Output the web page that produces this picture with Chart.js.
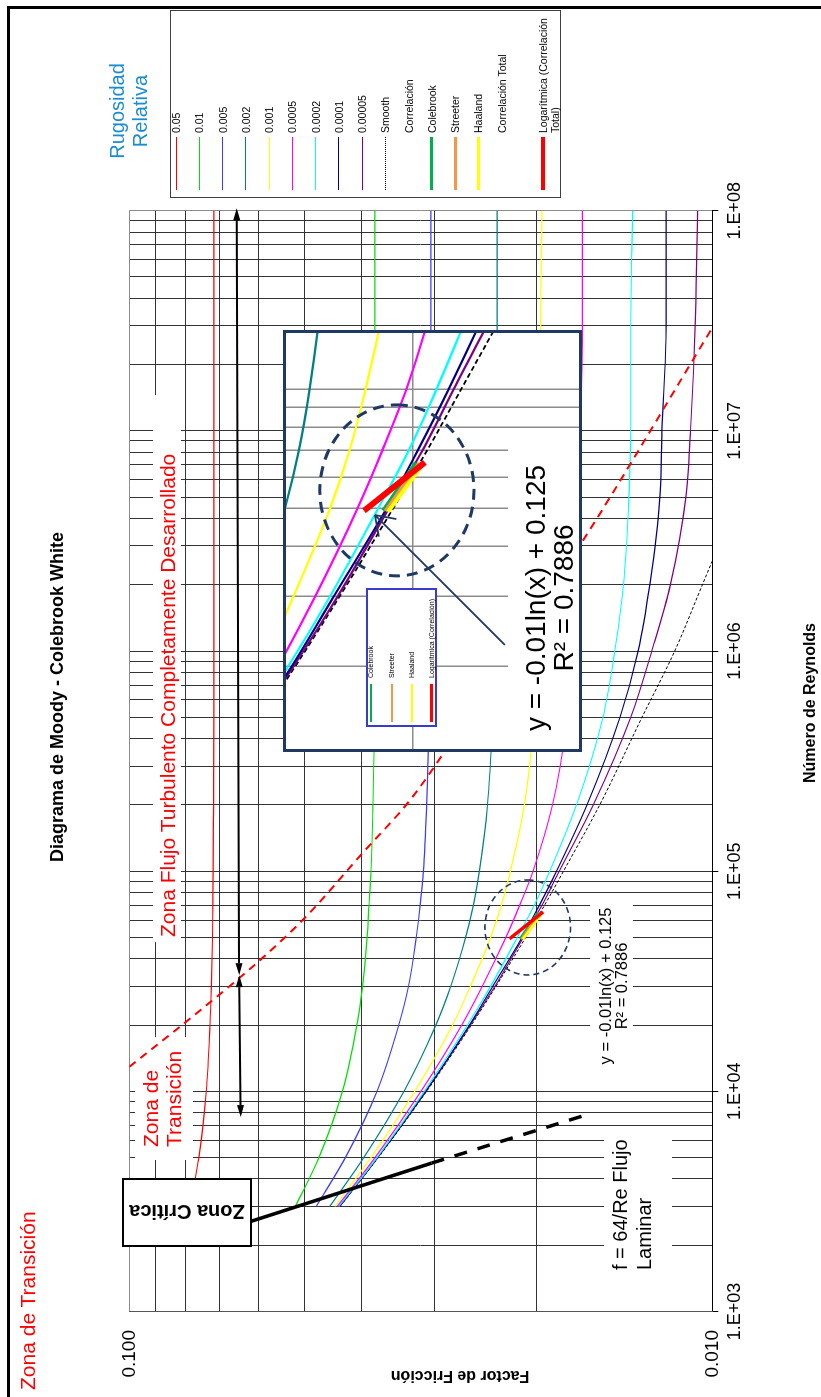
<!DOCTYPE html>
<html lang="es">
<head>
<meta charset="utf-8">
<title>Diagrama de Moody - Colebrook White</title>
<script src="https://cdn.jsdelivr.net/npm/chart.js@4.4.1/dist/chart.umd.min.js"></script>
<style>
  html, body { margin: 0; padding: 0; background: #fff; }
  body { position: relative; width: 821px; height: 1397px; overflow: hidden;
         font-family: "Liberation Sans", Arial, sans-serif; color: #000; }
  /* the chart is laid out landscape and turned a quarter turn to the left */
  #sheet { position: absolute; left: 0; top: 1397px; width: 1397px; height: 821px;
           transform-origin: 0 0; transform: rotate(-90deg); background: #fff; }
  #sheet div { position: absolute; white-space: nowrap; }
  canvas { position: absolute; left: 0; top: 0; }
  #frame { left: -5px; top: 7px; width: 1393px; height: 900px;
           border-top: 3px solid #000; border-right: 3px solid #000; }
  .zone { color: #ff0000; font-size: 21px; line-height: 23px; }
  #zoneTop { left: 7px; top: 16px; }
  #zoneTurb { left: 460px; top: 156px; }
  #zoneTrans { left: 250px; top: 138.5px; }
  #title { left: 400px; top: 45.5px; width: 600px; text-align: center;
           font-weight: bold; font-size: 18px; line-height: 22px; }
  #laminar { left: 127px; top: 608px; font-size: 20px; line-height: 24px; }
  #eqMain { left: 311px; top: 597px; width: 200px; text-align: center; font-size: 16.5px; line-height: 16px; }
  #critical { left: 150px; top: 122px; width: 69px; height: 130px; box-sizing: border-box;
              border: 2px solid #000; background: #fff; }
  .turn { left: 50%; top: 50%; transform: translate(-50%, -50%) rotate(-90deg); }
  #critical .turn { font-weight: bold; font-size: 20px; }
  #rugosidad { left: 1186px; top: 105.5px; width: 200px; text-align: center; color: #1a8dd0;
               font-size: 20px; line-height: 23px; }
  #legend { left: 1199px; top: 170px; width: 188px; height: 391px; box-sizing: border-box;
            border: 1px solid #404040; background: #fff; }
  #legend .txt { font-size: 10.5px; line-height: 12px; }
  #xTitle { left: 594px; top: 800px; width: 200px; text-align: center; font-weight: bold;
            font-size: 16px; line-height: 20px; }
  #yTitle { left: -79.5px; top: 450px; width: 200px; height: 20px; text-align: center; font-weight: bold;
            font-size: 16px; line-height: 20px; transform: rotate(-90deg); }
  #inset { left: 645px; top: 283px; width: 416px; height: 293px; border: 3px solid #1f3864; background: #fff; }
  #eqInset { left: 1px; top: 236px; width: 300px; text-align: center; font-size: 28px; line-height: 28px; }
  #insetLegend { left: 22.3px; top: 80px; width: 138.4px; height: 71.3px; box-sizing: border-box;
                 border: 2px solid #3a3acc; background: #fff; }
  #insetLegend .txt { font-size: 7px; line-height: 8px; }
</style>
</head>
<body>
<div id="sheet">
  <canvas id="moody" width="1397" height="821"></canvas>
  <div id="frame"></div>

  <div id="zoneTop" class="zone">Zona de Transición</div>
  <div id="title">Diagrama de Moody - Colebrook White</div>
  <div id="zoneTurb" class="zone">Zona Flujo Turbulento Completamente Desarrollado</div>
  <div id="zoneTrans" class="zone">Zona de<br>Transición</div>
  <div id="laminar">f = 64/Re Flujo<br>Laminar</div>
  <div id="eqMain">y = -0.01ln(x) + 0.125<br>R² = 0.7886</div>
  <div id="critical"><div class="turn">Zona Crítica</div></div>

  <div id="inset">
    <canvas id="zoom" width="416" height="293"></canvas>
    <div id="eqInset">y = -0.01ln(x) + 0.125<br>R² = 0.7886</div>
    <div id="insetLegend"></div>
  </div>

  <div id="rugosidad">Rugosidad<br>Relativa</div>
  <div id="legend"></div>
  <div id="xTitle">Número de Reynolds</div>
  <div id="yTitle">Factor de Fricción</div>
</div>

<script>
/* ---------- Data ---------- */
const reynolds = [3e3, 5e3, 1e4, 2e4, 3e4, 5e4, 7e4, 1e5, 2e5, 5e5, 1e6, 2e6, 5e6, 1e7, 3e7, 1e8];

const roughLabels = ['0.05', '0.01', '0.005', '0.002', '0.001', '0.0005', '0.0002', '0.0001', '0.00005', 'Smooth'];
const roughColors = ['#ff0000', '#00e000', '#3c3cff', '#008080', '#ffff00', '#ff00ff', '#00ffff', '#000080', '#800080', '#000000'];

const fr_05    = [0.0787, 0.0760, 0.0738, 0.0727, 0.0723, 0.0720, 0.0719, 0.0718, 0.0717, 0.0716, 0.0716, 0.0716, 0.0716, 0.0716, 0.0716, 0.0716];
const fr_01    = [0.0519, 0.0473, 0.0431, 0.0407, 0.0398, 0.0391, 0.0388, 0.0385, 0.0382, 0.0380, 0.0380, 0.0379, 0.0379, 0.0379, 0.0379, 0.0379];
const fr_005   = [0.0478, 0.0426, 0.0376, 0.0345, 0.0332, 0.0322, 0.0317, 0.0313, 0.0309, 0.0306, 0.0305, 0.0304, 0.0304, 0.0304, 0.0304, 0.0304];
const fr_002   = [0.0453, 0.0396, 0.0338, 0.0298, 0.0281, 0.0265, 0.0257, 0.0251, 0.0243, 0.0238, 0.0236, 0.0235, 0.0235, 0.0234, 0.0234, 0.0234];
const fr_001   = [0.0444, 0.0385, 0.0324, 0.0279, 0.0260, 0.0240, 0.0230, 0.0222, 0.0210, 0.0202, 0.0199, 0.0198, 0.0197, 0.0197, 0.0197, 0.0196];
const fr_0005  = [0.0440, 0.0379, 0.0316, 0.0269, 0.0248, 0.0226, 0.0214, 0.0203, 0.0188, 0.0177, 0.0172, 0.0170, 0.0168, 0.0168, 0.0167, 0.0167];
const fr_0002  = [0.0437, 0.0376, 0.0312, 0.0263, 0.0240, 0.0216, 0.0202, 0.0190, 0.0171, 0.0154, 0.0147, 0.0142, 0.0139, 0.0138, 0.0138, 0.0137];
const fr_0001  = [0.0436, 0.0375, 0.0310, 0.0261, 0.0238, 0.0212, 0.0198, 0.0185, 0.0164, 0.0144, 0.0134, 0.0128, 0.0123, 0.0122, 0.0120, 0.0120];
const fr_00005 = [0.0436, 0.0375, 0.0310, 0.0260, 0.0236, 0.0211, 0.0196, 0.0183, 0.0160, 0.0138, 0.0127, 0.0118, 0.0111, 0.0109, 0.0107, 0.0106];
const fr_smooth= [0.0435, 0.0374, 0.0309, 0.0259, 0.0235, 0.0209, 0.0194, 0.0180, 0.0156, 0.0132, 0.0116, 0.0104, 0.0090, 0.0081, 0.0069, 0.0059];
const roughSeries = [fr_05, fr_01, fr_005, fr_002, fr_001, fr_0005, fr_0002, fr_0001, fr_00005, fr_smooth];

// red dashed limit of fully developed turbulence
const boundaryRe = [12930, 20490, 38790, 61040, 118300, 210300, 798000, 3030000, 4215000, 29400000];
const boundaryF  = [0.1, 0.0803, 0.0601, 0.0501, 0.0401, 0.0330, 0.0236, 0.01686, 0.01558, 0.01];

// laminar line (solid, then dashed)
const laminarRe = [2163, 4721];
const laminarF  = [0.0756, 0.0303];
const laminarDashRe = [4721, 7888];
const laminarDashF  = [0.0303, 0.01628];

// correlation segments
const trendRe = [49300, 65300];
const trendF  = [0.02228, 0.0195];
const colebrookRe = [49300, 65200];
const colebrookF  = [0.02136, 0.01988];
const streeterRe = [49200, 65100];
const streeterF  = [0.02125, 0.01972];
const haalandRe = [49050, 64950];
const haalandF  = [0.02113, 0.01956];

// axis ticks
const reTickValues = [1e3, 1e4, 1e5, 1e6, 1e7, 1e8];
const reTickLabels = ['1.E+03', '1.E+04', '1.E+05', '1.E+06', '1.E+07', '1.E+08'];
const fTickValues = [0.01, 0.1];
const fTickLabels = ['0.010', '0.100'];

// annotations, in data units
const zoneArrowRe = [1.026e8, 33700, 7640];
const zoneArrowF  = [0.0654, 0.0648, 0.0644];
const circleRe = 55500, circleF = 0.02073;
const insetArrowRe = [22610, 48100];
const insetArrowF  = [0.01636, 0.02176];
const insetRe = [12353, 138460];
const insetF  = [0.013904, 0.026437];

/* ---------- Layout bits (pixels on the landscape sheet) ---------- */
const mainLabelBoxes = [[455, 153, 547, 28], [237, 135, 123, 58], [97, 604, 170, 68], [327, 590, 175, 43]];
const insetLabelBoxes = [[-1, 222, 310, 72]];

/* ---------- Helpers ---------- */
Chart.defaults.font.family = '"Liberation Sans", Arial, sans-serif';
Chart.defaults.color = '#000';

const pts = (xs, ys) => xs.map((x, i) => ({ x: x, y: ys[i] }));

function line(label, xs, ys, color, width, more) {
    return Object.assign({
        label: label,
        data: pts(xs, ys),
        borderColor: color,
        backgroundColor: color,
        borderWidth: width,
        pointRadius: 0,
        fill: false,
        cubicInterpolationMode: 'monotone'
    }, more || {});
}

function ellipse(ctx, cx, cy, rx, ry, width, dash) {
    ctx.save();
    ctx.strokeStyle = '#1f3864';
    ctx.lineWidth = width;
    ctx.setLineDash(dash);
    ctx.beginPath();
    ctx.ellipse(cx, cy, rx, ry, 0, 0, Math.PI * 2);
    ctx.stroke();
    ctx.restore();
}

function head(ctx, tip, ang, len, half) {
    const bx = tip[0] - len * Math.cos(ang), by = tip[1] - len * Math.sin(ang);
    ctx.beginPath();
    ctx.moveTo(tip[0], tip[1]);
    ctx.lineTo(bx + half * Math.sin(ang), by - half * Math.cos(ang));
    ctx.lineTo(bx - half * Math.sin(ang), by + half * Math.cos(ang));
    ctx.closePath();
    ctx.fill();
}

function doubleArrow(ctx, a, b) {
    const ang = Math.atan2(b[1] - a[1], b[0] - a[0]);
    const len = 12;
    ctx.save();
    ctx.strokeStyle = '#000';
    ctx.fillStyle = '#000';
    ctx.lineWidth = 2;
    ctx.beginPath();
    ctx.moveTo(a[0] + len * Math.cos(ang), a[1] + len * Math.sin(ang));
    ctx.lineTo(b[0] - len * Math.cos(ang), b[1] - len * Math.sin(ang));
    ctx.stroke();
    head(ctx, b, ang, len, 3.5);
    head(ctx, a, ang + Math.PI, len, 3.5);
    ctx.restore();
}

function whiteBoxes(ctx, boxes) {
    ctx.save();
    ctx.fillStyle = '#fff';
    boxes.forEach(b => ctx.fillRect(b[0], b[1], b[2], b[3]));
    ctx.restore();
}

/* ---------- Main chart ---------- */
const reGrid = [];
reTickValues.slice(0, -1).forEach(d => { for (let m = 1; m <= 9; m++) reGrid.push(m * d); });
reGrid.push(1e8);
const fGrid = [];
for (let m = 1; m <= 10; m++) fGrid.push(m * 0.01);

const mainNotes = {
    id: 'mainNotes',
    beforeDatasetsDraw(chart) {
        whiteBoxes(chart.ctx, mainLabelBoxes);
    },
    afterDatasetsDraw(chart) {
        const ctx = chart.ctx, sx = chart.scales.x, sy = chart.scales.y;
        ellipse(ctx, sx.getPixelForValue(circleRe), sy.getPixelForValue(circleF), 47.5, 42.8, 1.6, [6, 4]);
        const p = zoneArrowRe.map((re, i) => [sx.getPixelForValue(re), sy.getPixelForValue(zoneArrowF[i])]);
        doubleArrow(ctx, p[0], p[1]);
        doubleArrow(ctx, p[1], p[2]);
    }
};

const mainSets = [
    line('Logarítmica (Correlación Total)', trendRe, trendF, '#ff0000', 3.5, { order: 0 }),
    line('Haaland', haalandRe, haalandF, '#ffff00', 2.5, { order: 1 }),
    line('Streeter', streeterRe, streeterF, '#f79646', 2.5, { order: 2 }),
    line('Colebrook', colebrookRe, colebrookF, '#00b050', 2.5, { order: 3 }),
    line('f = 64/Re', laminarRe, laminarF, '#000', 3.5, { order: 4, cubicInterpolationMode: 'default', tension: 0 }),
    line('f = 64/Re (dashed)', laminarDashRe, laminarDashF, '#000', 3.5, { order: 5, cubicInterpolationMode: 'default', tension: 0, borderDash: [13, 11] }),
    line('Límite', boundaryRe, boundaryF, '#ff0000', 2, { order: 6, borderDash: [8, 6] })
].concat(roughSeries.map((ys, i) => line(roughLabels[i], reynolds, ys, roughColors[i], i === 9 ? 1 : 1.2,
    { order: 10 + i, borderDash: i === 9 ? [3, 2] : [] })));

new Chart(document.getElementById('moody'), {
    type: 'line',
    data: { datasets: mainSets },
    options: {
        responsive: false,
        animation: false,
        events: [],
        layout: { padding: { left: 0, right: 210.7, top: 129.3, bottom: 68.7 } },
        plugins: { legend: { display: false }, tooltip: { enabled: false } },
        scales: {
            x: {
                type: 'logarithmic', min: 1e3, max: 1e8,
                afterBuildTicks: s => { s.ticks = reGrid.map(v => ({ value: v })); },
                afterFit: s => { s.height = 40; },
                ticks: {
                    autoSkip: false, maxRotation: 0, minRotation: 0, padding: 6.4,
                    font: { size: 18 },
                    callback: v => { const k = reTickValues.indexOf(v); return k < 0 ? '' : reTickLabels[k]; }
                },
                grid: {
                    lineWidth: 1, tickLength: 6,
                    color: c => (c.tick && c.tick.value === 1e8) ? '#8c8c8c' : '#333',
                    tickColor: c => (c.tick && reTickValues.includes(c.tick.value)) ? '#000' : 'rgba(0,0,0,0)'
                },
                border: { color: '#000', width: 1 }
            },
            y: {
                type: 'logarithmic', min: 0.01, max: 0.1,
                afterBuildTicks: s => { s.ticks = fGrid.map(v => ({ value: v })); },
                afterFit: s => { s.width = 85.5; },
                ticks: {
                    autoSkip: false, padding: 18.5,
                    font: { size: 19 },
                    callback: v => { const k = fTickValues.indexOf(v); return k < 0 ? '' : fTickLabels[k]; }
                },
                grid: {
                    lineWidth: 1, drawTicks: false,
                    color: c => (c.tick && c.tick.value === 0.1) ? '#8c8c8c' : '#333'
                },
                border: { color: '#555', width: 1 }
            }
        }
    },
    plugins: [mainNotes]
});

/* ---------- Zoomed inset ---------- */
const insetReGrid = [2e4, 3e4, 4e4, 5e4, 6e4, 7e4, 8e4, 9e4, 1e5];
const insetFGrid = [0.02];

const insetNotes = {
    id: 'insetNotes',
    beforeDatasetsDraw(chart) {
        whiteBoxes(chart.ctx, insetLabelBoxes);
    },
    afterDatasetsDraw(chart) {
        const ctx = chart.ctx, sx = chart.scales.x, sy = chart.scales.y;
        ellipse(ctx, sx.getPixelForValue(circleRe), sy.getPixelForValue(circleF), 47.5 * 1.8, 42.8 * 1.8, 3, [11, 7]);
        const tail = [sx.getPixelForValue(insetArrowRe[0]), sy.getPixelForValue(insetArrowF[0])];
        const tip = [sx.getPixelForValue(insetArrowRe[1]), sy.getPixelForValue(insetArrowF[1])];
        const back = Math.atan2(tail[1] - tip[1], tail[0] - tip[0]);
        ctx.save();
        ctx.strokeStyle = '#1f3864';
        ctx.lineWidth = 1.8;
        ctx.beginPath();
        ctx.moveTo(tail[0], tail[1]);
        ctx.lineTo(tip[0], tip[1]);
        [-0.6, 0.6].forEach(d => {
            ctx.moveTo(tip[0], tip[1]);
            ctx.lineTo(tip[0] + 22 * Math.cos(back + d), tip[1] + 22 * Math.sin(back + d));
        });
        ctx.stroke();
        ctx.restore();
    }
};

const insetSets = [
    line('Logarítmica (Correlación)', trendRe, trendF, '#ff0000', 6, { order: 0 }),
    line('Haaland', haalandRe, haalandF, '#ffff00', 4, { order: 1 }),
    line('Streeter', streeterRe, streeterF, '#f79646', 4, { order: 2 }),
    line('Colebrook', colebrookRe, colebrookF, '#00b050', 4, { order: 3 })
].concat(roughSeries.map((ys, i) => line(roughLabels[i], reynolds, ys, roughColors[i], i === 9 ? 1.8 : 2.2,
    { order: 10 + i, borderDash: i === 9 ? [5, 3] : [] })));

new Chart(document.getElementById('zoom'), {
    type: 'line',
    data: { datasets: insetSets },
    options: {
        responsive: false,
        animation: false,
        events: [],
        layout: { padding: 0 },
        plugins: { legend: { display: false }, tooltip: { enabled: false } },
        scales: {
            x: {
                type: 'logarithmic', min: insetRe[0], max: insetRe[1],
                afterBuildTicks: s => { s.ticks = insetReGrid.map(v => ({ value: v })); },
                afterFit: s => { s.height = 0; },
                ticks: { display: false },
                grid: { color: '#8c8c8c', lineWidth: 1.5, drawTicks: false },
                border: { display: false }
            },
            y: {
                type: 'logarithmic', min: insetF[0], max: insetF[1],
                afterBuildTicks: s => { s.ticks = insetFGrid.map(v => ({ value: v })); },
                afterFit: s => { s.width = 0; },
                ticks: { display: false },
                grid: { color: '#8c8c8c', lineWidth: 1.5, drawTicks: false },
                border: { display: false }
            }
        }
    },
    plugins: [insetNotes]
});

/* ---------- Legends ---------- */
function addEntry(box, cy, item, sampleLeft, sampleWidth, textLeft, textHalf) {
    if (item.color) {
        const s = document.createElement('div');
        s.style.cssText = 'left:' + sampleLeft + 'px;top:' + (cy - item.width / 2) + 'px;width:' + sampleWidth +
            'px;height:0;border-top:' + item.width + 'px ' + (item.dash ? 'dotted' : 'solid') + ' ' + item.color;
        box.appendChild(s);
    }
    const t = document.createElement('div');
    t.className = 'txt';
    t.style.left = textLeft + 'px';
    t.style.top = (cy - textHalf) + 'px';
    t.innerHTML = item.label;
    box.appendChild(t);
}

const legendItems = roughLabels.map((l, i) => ({ label: l, color: roughColors[i], width: 1, dash: i === 9 }))
    .concat([
        { label: 'Correlación' },
        { label: 'Colebrook', color: '#00b050', width: 3 },
        { label: 'Streeter', color: '#f79646', width: 3 },
        { label: 'Haaland', color: '#ffff00', width: 3 },
        { label: 'Correlación Total' },
        { label: 'Logarítmica (Correlación<br>Total)', color: '#ff0000', width: 4 }
    ]);
const legendBox = document.getElementById('legend');
legendItems.forEach((item, i) => {
    const cy = i < 15 ? 5 + i * 23.26 : 371.7;
    addEntry(legendBox, cy, item, 7, 53, 64, 6);
});

const insetLegendItems = [
    { label: 'Colebrook', color: '#00b050', width: 2 },
    { label: 'Streeter', color: '#f79646', width: 2 },
    { label: 'Haaland', color: '#ffff00', width: 2 },
    { label: 'Logarítmica (Correlación)', color: '#ff0000', width: 3 }
];
const insetLegendBox = document.getElementById('insetLegend');
[2.7, 23.7, 44.3, 63.7].forEach((cy, i) => addEntry(insetLegendBox, cy, insetLegendItems[i], 3, 38, 46.7, 4));
</script>
</body>
</html>
